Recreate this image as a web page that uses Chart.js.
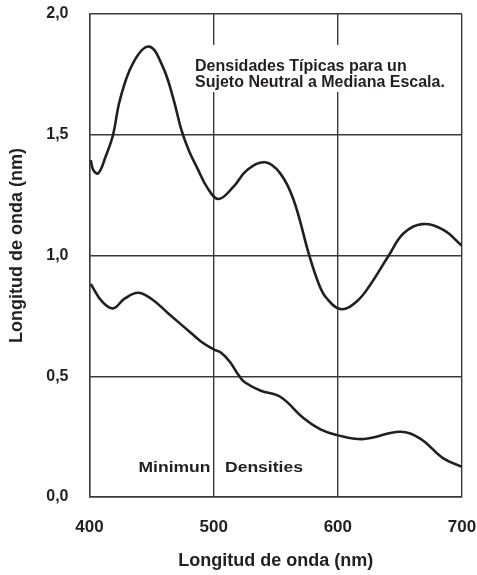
<!DOCTYPE html>
<html>
<head>
<meta charset="utf-8">
<script src="https://cdn.jsdelivr.net/npm/chart.js@4/dist/chart.umd.min.js"></script>
<style>
  html, body { margin: 0; padding: 0; background: #fff; }
  #wrap { width: 477px; height: 575px; }
</style>
</head>
<body>
<div id="wrap"><canvas id="densityChart"></canvas></div>
<script>
// wavelength (nm) and density values
const typicalNm = [401, 403, 407, 413, 419, 424.5, 435, 448, 459, 467.5, 474, 480, 487, 495, 504, 516, 527, 541.5, 553.6, 564.4, 577, 585, 591, 602.5, 615, 626, 641, 653, 668, 685, 700];
const typicalDensity = [1.395, 1.355, 1.34, 1.41, 1.5, 1.644, 1.796, 1.865, 1.782, 1.65, 1.52, 1.435, 1.36, 1.28, 1.234, 1.285, 1.354, 1.386, 1.34, 1.23, 1.0, 0.878, 0.823, 0.778, 0.809, 0.878, 1.0, 1.092, 1.13, 1.106, 1.04];

const minimumNm = [401, 410, 419, 428, 439, 450, 463.5, 482, 490, 500, 506, 513, 520, 525, 538, 553.6, 572.5, 586, 599, 621, 650, 666, 685, 700];
const minimumDensity = [0.882, 0.81, 0.781, 0.82, 0.846, 0.82, 0.76, 0.678, 0.643, 0.611, 0.597, 0.56, 0.505, 0.475, 0.44, 0.415, 0.326, 0.28, 0.257, 0.24, 0.27, 0.243, 0.16, 0.125];

const xTicks = [400, 500, 600, 700];
const yTicks = [0, 0.5, 1.0, 1.5, 2.0];

const INK = '#231f20';
const GRID = '#3a3a3a';
const FONT = 'Liberation Sans, Arial, Helvetica, sans-serif';

function toPoints(xs, ys) {
    return xs.map((x, i) => ({ x: x, y: ys[i] }));
}

// text notes placed in data coordinates
const notesPlugin = {
    id: 'notes',
    afterDatasetsDraw(chart) {
        const { ctx, scales: { x, y } } = chart;
        ctx.save();
        // white box behind the upper note (hides grid lines)
        const bx0 = x.getPixelForValue(482), bx1 = x.getPixelForValue(690);
        const by0 = y.getPixelForValue(1.872), by1 = y.getPixelForValue(1.677);
        ctx.fillStyle = '#ffffff';
        ctx.fillRect(bx0, by0, bx1 - bx0, by1 - by0);

        ctx.fillStyle = INK;
        ctx.font = 'bold 16px ' + FONT;
        ctx.textBaseline = 'alphabetic';
        ctx.textAlign = 'left';
        const tx = x.getPixelForValue(485);
        ctx.fillText('Densidades Típicas para un', tx, y.getPixelForValue(1.762));
        ctx.fillText('Sujeto Neutral a Mediana Escala.', tx, y.getPixelForValue(1.698));

        // lower note is a little stretched sideways in the reference
        const mx = x.getPixelForValue(439.5), my = y.getPixelForValue(0.105);
        ctx.translate(mx, my);
        ctx.scale(1.25, 1);
        ctx.font = 'bold 14px ' + FONT;
        ctx.fillText('Minimun   Densities', 0, 0);
        ctx.restore();
    }
};

const ctx = document.getElementById('densityChart').getContext('2d');
const chart = new Chart(ctx, {
    type: 'line',
    data: {
        datasets: [
            {
                label: 'Densidades Típicas',
                data: toPoints(typicalNm, typicalDensity),
                borderColor: INK,
                borderWidth: 2.6,
                pointRadius: 0,
                tension: 0.4,
                fill: false
            },
            {
                label: 'Minimun Densities',
                data: toPoints(minimumNm, minimumDensity),
                borderColor: INK,
                borderWidth: 2.6,
                pointRadius: 0,
                tension: 0.4,
                fill: false
            }
        ]
    },
    options: {
        responsive: true,
        maintainAspectRatio: false,
        animation: false,
        layout: { padding: { top: 14, right: 15, left: 0, bottom: 0 } },
        plugins: {
            legend: { display: false },
            tooltip: { enabled: false }
        },
        scales: {
            x: {
                type: 'linear',
                min: 400,
                max: 700,
                afterBuildTicks: (scale) => { scale.ticks = xTicks.map(v => ({ value: v })); },
                afterFit: (scale) => {
                    scale.height = 78;
                    scale.paddingLeft = 0;
                    scale.paddingRight = 0;
                },
                grid: { color: GRID, lineWidth: 1.4, drawTicks: false },
                border: { color: GRID, width: 1.4 },
                ticks: {
                    color: INK,
                    padding: 20,
                    font: { family: FONT, size: 17, weight: 'bold' }
                },
                title: {
                    display: true,
                    text: 'Longitud de onda (nm)',
                    color: INK,
                    padding: { top: 0, bottom: 3 },
                    font: { family: FONT, size: 18, weight: 'bold' }
                }
            },
            y: {
                type: 'linear',
                min: 0,
                max: 2,
                afterBuildTicks: (scale) => { scale.ticks = yTicks.map(v => ({ value: v })); },
                afterFit: (scale) => {
                    scale.width = 89.5;
                    scale.paddingTop = 0;
                    scale.paddingBottom = 0;
                },
                grid: { color: GRID, lineWidth: 1.4, drawTicks: false },
                border: { color: GRID, width: 1.4 },
                ticks: {
                    color: INK,
                    padding: 21,
                    font: { family: FONT, size: 16, weight: 'bold' },
                    callback: (v) => v.toFixed(1).replace('.', ',')
                },
                title: {
                    display: true,
                    text: '    Longitud de onda (nm)',
                    color: INK,
                    padding: { top: 6.5, bottom: 0 },
                    font: { family: FONT, size: 18, weight: 'bold' }
                }
            }
        }
    },
    plugins: [notesPlugin]
});
</script>
</body>
</html>
